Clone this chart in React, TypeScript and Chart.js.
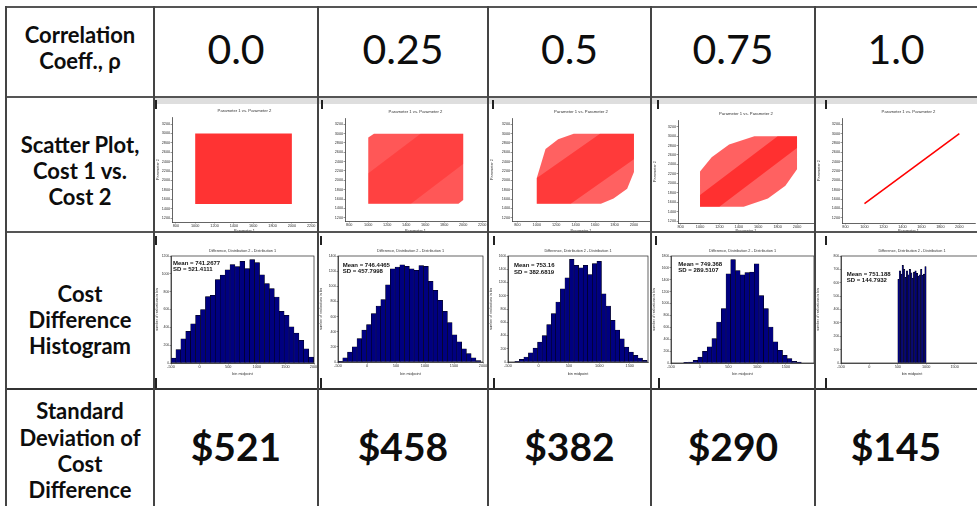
import React, { useEffect, useRef } from 'react';
import { Chart, registerables } from 'chart.js';

Chart.register(...registerables);
Chart.defaults.font.family = 'Liberation Sans';

// ---------------- data ----------------
const correlationLabels = ['0.0', '0.25', '0.5', '0.75', '1.0'];
const sdValueLabels = ['$521', '$458', '$382', '$290', '$145'];
const histMeanLabels = ['741.2677', '746.4465', '753.16', '749.368', '751.188'];
const histSdLabels = ['521.4111', '457.7998', '382.6819', '289.5107', '144.7932'];

// histogram bar counts
const histCounts0 = [55, 150, 270, 355, 440, 535, 600, 745, 760, 935, 985, 1045, 1105, 1080, 1140, 1060, 1160, 1125, 990, 890, 835, 740, 580, 535, 405, 335, 255, 160, 65];
const histCounts25 = [10, 55, 130, 200, 310, 420, 495, 640, 740, 825, 1020, 1230, 1255, 1285, 1265, 1230, 1210, 1275, 1265, 1065, 945, 815, 670, 520, 360, 265, 175, 110, 55, 20];
const histCounts50 = [10, 40, 75, 140, 210, 300, 400, 565, 730, 905, 1105, 1270, 1550, 1460, 1420, 1460, 1320, 1485, 1520, 1030, 845, 630, 480, 350, 225, 150, 100, 60, 25];
const histCounts75 = [10, 15, 45, 100, 195, 270, 410, 690, 915, 1500, 1740, 1555, 1485, 1520, 1530, 1670, 1135, 915, 605, 355, 215, 130, 75, 30, 15];
const histCounts100 = [625, 690, 665, 730, 700, 640, 690, 660, 700, 675, 635, 680, 690, 670, 650, 660, 700, 655, 665, 720];
const histFirstBinCenter = [-457, -459, -352, -239, 512.5];
const histBinWidth = [86, 82, 75, 82, 25];
const histYMax = [1200, 1400, 1600, 1800, 800];
const histYStep = [200, 200, 200, 200, 100];
const histXMax = [2000, 2000, 1800, 1990, 2000];
const histXTicks = [-500, 0, 500, 1000, 1500, 2000];

// scatter clouds: outline of the point cloud (outer) and its denser core
const scatterOuter0 = [[1000, 1500], [2000, 1500], [2000, 3000], [1000, 3000]];
const scatterOuter25 = [[1000, 1500], [1950, 1500], [2000, 1580], [2000, 3000], [1060, 3000], [1000, 2920]];
const scatterCore25 = [[1000, 1500], [1450, 1500], [2000, 2350], [2000, 3000], [1550, 3000], [1000, 2150]];
const scatterOuter50 = [[1000, 1500], [1660, 1500], [1790, 1610], [1930, 1820], [2000, 2180], [2000, 3000], [1380, 3000], [1220, 2880], [1090, 2670], [1000, 2050]];
const scatterCore50 = [[1000, 1500], [1350, 1500], [2000, 2450], [2000, 3000], [1650, 3000], [1000, 2050]];
const scatterOuter75 = [[1000, 1500], [1450, 1500], [1700, 1680], [1880, 1950], [2000, 2300], [2000, 3000], [1560, 3000], [1300, 2820], [1120, 2550], [1000, 2250]];
const scatterCore75 = [[1000, 1500], [1200, 1500], [2000, 2750], [2000, 3000], [1800, 3000], [1000, 1750]];
const scatterLine100 = [[1000, 1500], [2000, 3000]];
const scatterXTicks = [800, 1000, 1200, 1400, 1600, 1800, 2000, 2200];
const scatterYTicks = [1200, 1400, 1600, 1800, 2000, 2200, 2400, 2600, 2800, 3000, 3200];

// ---------------- layout ----------------
type Box = { left: number; top: number; width: number; height: number };
type Area = { left: number; top: number; right: number; bottom: number };

const COLS = [6, 154, 318, 488, 651, 815];
const HROWS = [7, 97, 232, 389];

const scatterLayout: { box: Box; area: Area; x: number[]; y: number[]; yTitle: boolean }[] = [
  { box: { left: 155, top: 98, width: 163, height: 135 }, area: { left: 172, top: 117, right: 317, bottom: 222 }, x: [760, 2260], y: [1115, 3350], yTitle: true },
  { box: { left: 319, top: 98, width: 169, height: 135 }, area: { left: 345, top: 118, right: 486, bottom: 221 }, x: [755, 2240], y: [1129, 3335], yTitle: false },
  { box: { left: 489, top: 98, width: 162, height: 135 }, area: { left: 512, top: 118, right: 650, bottom: 221 }, x: [745, 2165], y: [1129, 3335], yTitle: true },
  { box: { left: 652, top: 98, width: 163, height: 135 }, area: { left: 678, top: 120, right: 814, bottom: 223 }, x: [773, 2175], y: [1158, 3342], yTitle: true },
  { box: { left: 816, top: 98, width: 161, height: 135 }, area: { left: 842, top: 118, right: 975, bottom: 223 }, x: [763, 2165], y: [1086, 3335], yTitle: true },
];

const histLayout: { box: Box; area: Area; mean: number[]; sd: number[] }[] = [
  { box: { left: 155, top: 237, width: 163, height: 141 }, area: { left: 171, top: 256, right: 314, bottom: 363 }, mean: [173, 263.3], sd: [173, 269.5] },
  { box: { left: 319, top: 237, width: 169, height: 141 }, area: { left: 338, top: 256, right: 483, bottom: 362 }, mean: [342.7, 265], sd: [342.7, 271.5] },
  { box: { left: 489, top: 237, width: 162, height: 141 }, area: { left: 508, top: 256, right: 648, bottom: 362 }, mean: [514, 265.7], sd: [514, 272.2] },
  { box: { left: 652, top: 237, width: 163, height: 141 }, area: { left: 671, top: 256, right: 814, bottom: 363 }, mean: [678.3, 264], sd: [678.3, 270.3] },
  { box: { left: 816, top: 237, width: 175, height: 141 }, area: { left: 841, top: 256, right: 983, bottom: 363 }, mean: [846.7, 274.3], sd: [846.7, 280.7] },
];

const histCounts = [histCounts0, histCounts25, histCounts50, histCounts75, histCounts100];

type Layer = { pts: number[][]; color: string; line?: boolean };
const scatterLayers: Layer[][] = [
  [{ pts: scatterOuter0, color: 'rgba(255,0,0,0.80)' }],
  [{ pts: scatterOuter25, color: 'rgba(255,0,0,0.66)' }, { pts: scatterCore25, color: 'rgba(255,0,0,0.25)' }],
  [{ pts: scatterOuter50, color: 'rgba(255,0,0,0.62)' }, { pts: scatterCore50, color: 'rgba(255,0,0,0.40)' }],
  [{ pts: scatterOuter75, color: 'rgba(255,0,0,0.62)' }, { pts: scatterCore75, color: 'rgba(255,0,0,0.50)' }],
  [{ pts: scatterLine100, color: '#ff0000', line: true }],
];

// ---------------- helpers ----------------
const FONT = 'Liberation Sans';

function makeAxis(kind: 'x' | 'y', min: number, max: number, ticks: number[], size: number, title: string, showTitle: boolean, titlePad: number, fontSize: number) {
  return {
    type: 'linear',
    position: kind === 'x' ? 'bottom' : 'left',
    min,
    max,
    offset: false,
    afterBuildTicks: (s: any) => {
      s.ticks = ticks.filter((v) => v >= min && v <= max).map((v) => ({ value: v }));
    },
    afterFit: (s: any) => {
      if (kind === 'x') s.height = size;
      else s.width = size;
      s.paddingLeft = 0;
      s.paddingRight = 0;
      s.paddingTop = 0;
      s.paddingBottom = 0;
    },
    grid: { display: true, drawOnChartArea: false, drawTicks: true, tickLength: 1.5, color: '#333', lineWidth: 0.5, offset: false },
    border: { display: true, color: '#222', width: 0.7 },
    ticks: {
      autoSkip: false,
      maxRotation: 0,
      minRotation: 0,
      padding: 0.3,
      color: '#333',
      font: { size: fontSize, family: FONT },
      callback: (v: any) => String(v),
    },
    title: { display: showTitle, text: title, color: '#333', font: { size: fontSize, family: FONT }, padding: titlePad },
  };
}

type TextItem = { text: string; x: number; y: number; font: string; align: CanvasTextAlign };

function overlayPlugin(items: TextItem[], frame: boolean, titleText: string, titleY: number, titleSize: number) {
  return {
    id: 'overlay',
    afterDraw(chart: any) {
      const ctx = chart.ctx as CanvasRenderingContext2D;
      const a = chart.chartArea;
      ctx.save();
      if (frame) {
        ctx.strokeStyle = '#222';
        ctx.lineWidth = 0.7;
        ctx.strokeRect(a.left, a.top, a.right - a.left, a.bottom - a.top);
      }
      ctx.fillStyle = '#333';
      ctx.textBaseline = 'middle';
      ctx.textAlign = 'center';
      ctx.font = `${titleSize}px "${FONT}"`;
      ctx.fillText(titleText, (a.left + a.right) / 2, titleY);
      ctx.fillStyle = '#111';
      items.forEach((it) => {
        ctx.font = it.font;
        ctx.textAlign = it.align;
        ctx.fillText(it.text, it.x, it.y);
      });
      ctx.restore();
    },
  };
}

function scatterConfig(i: number) {
  const L = scatterLayout[i];
  const datasets = scatterLayers[i].map((layer) => {
    const pts = layer.line ? layer.pts : [...layer.pts, layer.pts[0]];
    return {
      data: pts.map((p) => ({ x: p[0], y: p[1] })),
      borderColor: layer.line ? layer.color : 'rgba(0,0,0,0)',
      borderWidth: layer.line ? 1.6 : 1,
      backgroundColor: layer.color,
      fill: layer.line ? false : 'shape',
      pointRadius: 0,
      tension: 0,
    };
  });
  return {
    type: 'line',
    data: { datasets },
    options: {
      responsive: false,
      animation: false,
      devicePixelRatio: 1,
      events: [],
      layout: {
        padding: {
          top: L.area.top - L.box.top,
          right: L.box.left + L.box.width - L.area.right,
          left: 0,
          bottom: 0,
        },
      },
      plugins: { legend: { display: false }, tooltip: { enabled: false }, title: { display: false } },
      scales: {
        x: makeAxis('x', L.x[0], L.x[1], scatterXTicks, L.box.top + L.box.height - L.area.bottom, 'Parameter 1', true, 0, 3.8),
        y: makeAxis('y', L.y[0], L.y[1], scatterYTicks, L.area.left - L.box.left, 'Parameter 2', L.yTitle, 0.5, 3.8),
      },
    },
    plugins: [overlayPlugin([], false, 'Parameter 1 vs. Parameter 2', L.area.top - L.box.top - 6.5, 4.2)],
  };
}

function histConfig(i: number) {
  const L = histLayout[i];
  const counts = histCounts[i];
  const data = counts.map((c, k) => ({ x: histFirstBinCenter[i] + k * histBinWidth[i], y: c }));
  const yTicks: number[] = [];
  for (let v = 0; v <= histYMax[i]; v += histYStep[i]) yTicks.push(v);
  const bold = `bold 6px "${FONT}"`;
  const items: TextItem[] = [
    { text: `Mean = ${histMeanLabels[i]}`, x: L.mean[0] - L.box.left, y: L.mean[1] - L.box.top, font: bold, align: 'left' },
    { text: `SD = ${histSdLabels[i]}`, x: L.sd[0] - L.box.left, y: L.sd[1] - L.box.top, font: bold, align: 'left' },
  ];
  return {
    type: 'bar',
    data: {
      datasets: [
        {
          data,
          backgroundColor: '#000080',
          borderColor: '#000000',
          borderWidth: 0.5,
          barPercentage: 1,
          categoryPercentage: 1,
        },
      ],
    },
    options: {
      responsive: false,
      animation: false,
      devicePixelRatio: 1,
      events: [],
      layout: {
        padding: {
          top: L.area.top - L.box.top,
          right: L.box.left + L.box.width - L.area.right,
          left: 0,
          bottom: 0,
        },
      },
      plugins: { legend: { display: false }, tooltip: { enabled: false }, title: { display: false } },
      scales: {
        x: makeAxis('x', -500, histXMax[i], histXTicks, L.box.top + L.box.height - L.area.bottom, 'bin midpoint', true, 2, 3.8),
        y: makeAxis('y', 0, histYMax[i], yTicks, L.area.left - L.box.left, 'number of realizations in bin', true, 0.5, 3.4),
      },
    },
    plugins: [overlayPlugin(items, true, 'Difference, Distribution 2 - Distribution 1', L.area.top - L.box.top - 5, 3.8)],
  };
}

function ChartCanvas({ box, build }: { box: Box; build: () => any }) {
  const ref = useRef<HTMLCanvasElement>(null);
  useEffect(() => {
    const chart = new Chart(ref.current as HTMLCanvasElement, build());
    return () => chart.destroy();
  }, []);
  return (
    <canvas
      ref={ref}
      width={box.width}
      height={box.height}
      style={{ position: 'absolute', left: box.left, top: box.top, width: box.width, height: box.height }}
    />
  );
}

const headFont = 'Lato, "Open Sans", sans-serif';

function TextBlock({ left, top, width, height, lines, size, weight, lineHeight }: any) {
  return (
    <div
      style={{
        position: 'absolute',
        left,
        top,
        width,
        height,
        display: 'flex',
        flexDirection: 'column',
        alignItems: 'center',
        justifyContent: 'center',
        fontFamily: headFont,
        fontSize: size,
        fontWeight: weight,
        lineHeight: `${lineHeight}px`,
        color: '#0d0d0d',
        textAlign: 'center',
        whiteSpace: 'nowrap',
      }}
    >
      {lines.map((l: string, k: number) => (
        <div key={k}>{l}</div>
      ))}
    </div>
  );
}

export default function App() {
  useEffect(() => {
    document.body.style.margin = '0';
  }, []);
  const colRight = [...COLS.slice(1), 977];
  return (
    <div style={{ position: 'fixed', left: 0, top: 0, width: 977, height: 506, overflow: 'hidden', background: '#fff' }}>
      {/* row labels */}
      <TextBlock left={6} top={22} width={148} height={52} lines={['Correlation', 'Coeff., ρ']} size={22} weight={700} lineHeight={26} />
      <TextBlock left={6} top={132} width={148} height={78} lines={['Scatter Plot,', 'Cost 1 vs.', 'Cost 2']} size={22} weight={700} lineHeight={26} />
      <TextBlock left={6} top={281} width={148} height={78} lines={['Cost', 'Difference', 'Histogram']} size={22} weight={700} lineHeight={26} />
      <TextBlock left={6} top={399} width={148} height={104} lines={['Standard', 'Deviation of', 'Cost', 'Difference']} size={22} weight={700} lineHeight={26.3} />

      {correlationLabels.map((t, i) => (
        <TextBlock key={'c' + i} left={COLS[i + 1]} top={7} width={colRight[i + 1] - COLS[i + 1]} height={84} lines={[t]} size={41} weight={400} lineHeight={46} />
      ))}
      {sdValueLabels.map((t, i) => (
        <TextBlock key={'s' + i} left={COLS[i + 1]} top={390} width={colRight[i + 1] - COLS[i + 1]} height={112} lines={[t]} size={39} weight={700} lineHeight={46} />
      ))}

      {/* light band at top of scatter images */}
      <div style={{ position: 'absolute', left: 155, top: 98, width: 822, height: 6, background: '#dedede' }} />

      {scatterLayout.map((L, i) => (
        <ChartCanvas key={'sc' + i} box={L.box} build={() => scatterConfig(i)} />
      ))}
      {histLayout.map((L, i) => (
        <ChartCanvas key={'h' + i} box={L.box} build={() => histConfig(i)} />
      ))}

      {/* frame tick marks of the pasted figures */}
      {[155, 321, 492, 657, 825].map((x, k) => (
        <div key={'t1' + k} style={{ position: 'absolute', left: x, top: 100, width: 2, height: 9, background: '#222' }} />
      ))}
      {[155, 320, 493, 655, 825].map((x, k) => (
        <div key={'t2' + k} style={{ position: 'absolute', left: x, top: 236, width: 2, height: 9, background: '#222' }} />
      ))}
      {[155, 320, 493, 658, 825].map((x, k) => (
        <div key={'t3' + k} style={{ position: 'absolute', left: x, top: 378, width: 2, height: 11, background: '#222' }} />
      ))}

      {/* table grid */}
      {HROWS.map((y, k) => (
        <div key={'hr' + k} style={{ position: 'absolute', left: 6, top: y - 1, width: 971, height: 2, background: k === 3 ? '#333' : '#555' }} />
      ))}
      {COLS.map((x, k) => (
        <div key={'vr' + k} style={{ position: 'absolute', left: x - 1, top: 6, width: 2, height: 500, background: '#444' }} />
      ))}
    </div>
  );
}
